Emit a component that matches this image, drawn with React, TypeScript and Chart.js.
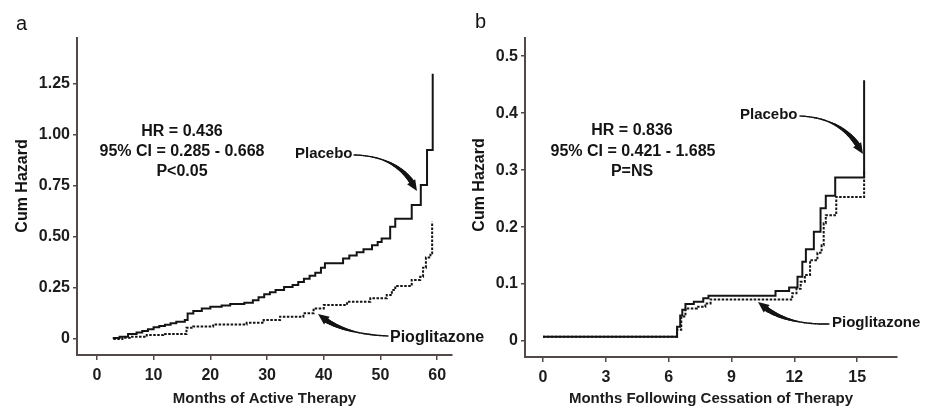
import React, { useEffect, useRef } from 'react';
import { Chart, registerables } from 'chart.js';

Chart.register(...registerables);

// ---------- Panel a: Months of Active Therapy ----------
const aPlaceboT = [2.8, 4, 5.5, 7, 8, 9, 10, 11, 12, 13, 14, 15.5, 16, 17, 18.5, 20, 22, 23.5, 26, 27.5, 28.5, 29.5, 30.5, 31.5, 33, 34.5, 35.5, 36.5, 37.5, 38.5, 39.5, 40.2, 43.4, 44.5, 45.8, 47, 48.5, 49.5, 50.2, 51.7, 52.6, 55.5, 57.1, 58.2, 59.2];
const aPlaceboH = [0.005, 0.012, 0.025, 0.032, 0.04, 0.048, 0.058, 0.064, 0.07, 0.077, 0.085, 0.093, 0.125, 0.138, 0.15, 0.158, 0.165, 0.172, 0.178, 0.19, 0.205, 0.22, 0.23, 0.24, 0.255, 0.265, 0.28, 0.295, 0.31, 0.325, 0.35, 0.371, 0.395, 0.41, 0.425, 0.44, 0.46, 0.475, 0.493, 0.55, 0.59, 0.657, 0.755, 0.926, 1.3];
const aPioT = [2.9, 4.5, 5.8, 8.8, 11.7, 15.8, 17, 20.5, 26.4, 29.4, 32.3, 36.4, 38.2, 40, 44.1, 48.2, 51.1, 52, 52.6, 55.5, 57, 57.5, 58, 58.8, 59.1];
const aPioH = [0, 0.006, 0.011, 0.02, 0.025, 0.055, 0.062, 0.072, 0.08, 0.093, 0.11, 0.126, 0.15, 0.167, 0.183, 0.2, 0.216, 0.24, 0.26, 0.29, 0.305, 0.35, 0.4, 0.42, 0.575];
const aXTicks = [0, 10, 20, 30, 40, 50, 60];
const aYTicks = [0, 0.25, 0.5, 0.75, 1.0, 1.25];
const aYTickLabels = ['0', '0.25', '0.50', '0.75', '1.00', '1.25'];

// ---------- Panel b: Months Following Cessation of Therapy ----------
const bPlaceboT = [0, 6.25, 6.4, 6.55, 6.65, 6.8, 7.2, 7.65, 7.9, 11.1, 11.75, 12.15, 12.38, 12.55, 12.93, 13.25, 13.5, 13.95, 15.33];
const bPlaceboH = [0.0075, 0.0075, 0.025, 0.045, 0.055, 0.065, 0.069, 0.075, 0.0795, 0.088, 0.094, 0.113, 0.139, 0.161, 0.192, 0.233, 0.255, 0.287, 0.458];
const bPioT = [0, 6.4, 6.6, 6.8, 7.35, 7.75, 8.0, 11.9, 12.1, 12.3, 12.5, 12.75, 13.1, 13.3, 13.4, 13.5, 14.0, 15.33];
const bPioH = [0.0075, 0.02, 0.043, 0.057, 0.06, 0.066, 0.073, 0.084, 0.092, 0.104, 0.116, 0.142, 0.155, 0.168, 0.207, 0.221, 0.253, 0.3];
const bXTicks = [0, 3, 6, 9, 12, 15];
const bYTicks = [0, 0.1, 0.2, 0.3, 0.4, 0.5];
const bYTickLabels = ['0', '0.1', '0.2', '0.3', '0.4', '0.5'];

const FONT = "Arial, 'Liberation Sans', Helvetica, sans-serif";
const AXIS = '#524949';
const INK = '#141414';

type Arrow = { p0: [number, number]; c: [number, number]; p2: [number, number] };
type Txt = { text: string; x: number; y: number; align: CanvasTextAlign; font: string; rotate?: boolean };

function drawArrow(ctx: CanvasRenderingContext2D, a: Arrow, ox: number) {
  const q = (t: number) => {
    const u = 1 - t;
    return [
      u * u * (a.p0[0] - ox) + 2 * u * t * (a.c[0] - ox) + t * t * (a.p2[0] - ox),
      u * u * a.p0[1] + 2 * u * t * a.c[1] + t * t * a.p2[1],
    ];
  };
  ctx.save();
  ctx.strokeStyle = INK;
  ctx.fillStyle = INK;
  ctx.lineCap = 'round';
  const N = 40;
  const tEnd = 0.86;
  for (let i = 0; i < N; i++) {
    const t0 = (i / N) * tEnd;
    const t1 = ((i + 1) / N) * tEnd;
    const [x0, y0] = q(t0);
    const [x1, y1] = q(t1);
    const k = Math.max(0, (t0 - 0.35) / (tEnd - 0.35));
    ctx.lineWidth = 1.4 + k * 3.8;
    ctx.beginPath();
    ctx.moveTo(x0, y0);
    ctx.lineTo(x1, y1);
    ctx.stroke();
  }
  const [tx, ty] = q(1);
  const [bx, by] = q(0.8);
  const dx = tx - bx;
  const dy = ty - by;
  const len = Math.hypot(dx, dy) || 1;
  const ux = dx / len;
  const uy = dy / len;
  const hl = 11;
  const hw = 4.8;
  const baseX = tx - ux * hl;
  const baseY = ty - uy * hl;
  ctx.beginPath();
  ctx.moveTo(tx, ty);
  ctx.lineTo(baseX - uy * hw, baseY + ux * hw);
  ctx.lineTo(baseX + uy * hw, baseY - ux * hw);
  ctx.closePath();
  ctx.fill();
  ctx.restore();
}

type PanelProps = {
  left: number;
  width: number;
  padRight: number;
  yAxisWidth: number;
  xAxisHeight: number;
  xMin: number;
  xMax: number;
  yMin: number;
  yMax: number;
  xTicks: number[];
  yTicks: number[];
  yTickLabels: string[];
  placeboT: number[];
  placeboH: number[];
  pioT: number[];
  pioH: number[];
  xTitle: string;
  texts: Txt[];
  arrows: Arrow[];
};

function Panel(p: PanelProps) {
  const ref = useRef<HTMLCanvasElement | null>(null);
  useEffect(() => {
    if (!ref.current) return;
    const annot = {
      id: 'annot',
      afterDraw(chart: any) {
        const ctx: CanvasRenderingContext2D = chart.ctx;
        for (const t of p.texts) {
          ctx.save();
          ctx.fillStyle = INK;
          ctx.font = t.font;
          ctx.textAlign = t.align;
          ctx.textBaseline = 'middle';
          if (t.rotate) {
            ctx.translate(t.x - p.left, t.y);
            ctx.rotate(-Math.PI / 2);
            ctx.fillText(t.text, 0, 0);
          } else {
            ctx.fillText(t.text, t.x - p.left, t.y);
          }
          ctx.restore();
        }
        for (const a of p.arrows) drawArrow(ctx, a, p.left);
      },
    };
    const tickFont = { family: FONT, size: 16, weight: 'bold' as const };
    const chart = new Chart(ref.current, {
      type: 'line',
      data: {
        datasets: [
          {
            label: 'Placebo',
            data: p.placeboT.map((t, i) => ({ x: t, y: p.placeboH[i] })),
            borderColor: INK,
            borderWidth: 2,
            stepped: true,
            pointRadius: 0,
            fill: false,
          },
          {
            label: 'Pioglitazone',
            data: p.pioT.map((t, i) => ({ x: t, y: p.pioH[i] })),
            borderColor: INK,
            borderWidth: 2,
            borderDash: [2.5, 1.5],
            stepped: true,
            pointRadius: 0,
            fill: false,
          },
        ],
      },
      options: {
        animation: false,
        responsive: false,
        devicePixelRatio: 1,
        layout: { padding: { top: 38, right: p.padRight, left: 0, bottom: 0 } },
        plugins: { legend: { display: false }, tooltip: { enabled: false } },
        scales: {
          x: {
            type: 'linear',
            min: p.xMin,
            max: p.xMax,
            afterBuildTicks: (s: any) => {
              s.ticks = p.xTicks.map((v) => ({ value: v }));
            },
            afterFit: (s: any) => {
              s.height = p.xAxisHeight;
            },
            ticks: { font: tickFont, color: '#1c1c1c', padding: 6, maxRotation: 0, autoSkip: false, callback: (v: any) => String(v) },
            grid: { display: true, drawOnChartArea: false, drawTicks: true, tickLength: 5, color: AXIS, lineWidth: 1.5 },
            border: { display: true, color: AXIS, width: 2 },
            title: { display: true, text: p.xTitle, color: '#1c1c1c', font: { family: FONT, size: 15, weight: 'bold' }, padding: { top: 0, bottom: 1 } },
          },
          y: {
            type: 'linear',
            min: p.yMin,
            max: p.yMax,
            afterBuildTicks: (s: any) => {
              s.ticks = p.yTicks.map((v) => ({ value: v }));
            },
            afterFit: (s: any) => {
              s.width = p.yAxisWidth;
            },
            ticks: {
              font: tickFont,
              color: '#1c1c1c',
              padding: 3,
              autoSkip: false,
              callback: (v: any) => {
                const i = p.yTicks.findIndex((t) => Math.abs(t - v) < 1e-9);
                return i >= 0 ? p.yTickLabels[i] : '';
              },
            },
            grid: { display: true, drawOnChartArea: false, drawTicks: true, tickLength: 4, color: AXIS, lineWidth: 1.5 },
            border: { display: true, color: AXIS, width: 2 },
            title: { display: false },
          },
        },
      },
      plugins: [annot],
    });
    return () => chart.destroy();
  }, []);
  return (
    <canvas
      ref={ref}
      width={p.width}
      height={409}
      style={{ position: 'absolute', left: p.left, top: 0, width: p.width, height: 409 }}
    />
  );
}

const bold16 = `bold 16px ${FONT}`;
const bold15 = `bold 15px ${FONT}`;
const reg20 = `20px ${FONT}`;

export default function App() {
  return (
    <div style={{ position: 'absolute', left: 0, top: 0, width: 929, height: 409, background: '#fff', overflow: 'hidden' }}>
      <Panel
        left={0}
        width={500}
        padRight={48}
        yAxisWidth={77}
        xAxisHeight={54}
        xMin={-3.5}
        xMax={62.6}
        yMin={-0.078}
        yMax={1.475}
        xTicks={aXTicks}
        yTicks={aYTicks}
        yTickLabels={aYTickLabels}
        placeboT={aPlaceboT}
        placeboH={aPlaceboH}
        pioT={aPioT}
        pioH={aPioH}
        xTitle="Months of Active Therapy"
        texts={[
          { text: 'a', x: 16, y: 24, align: 'left', font: reg20 },
          { text: 'Cum Hazard', x: 23, y: 186, align: 'center', font: bold16, rotate: true },
          { text: 'HR = 0.436', x: 182, y: 132, align: 'center', font: bold16 },
          { text: '95% CI = 0.285 - 0.668', x: 182, y: 152, align: 'center', font: bold16 },
          { text: 'P<0.05', x: 182, y: 172, align: 'center', font: bold16 },
          { text: 'Placebo', x: 295, y: 154, align: 'left', font: bold15 },
          { text: 'Pioglitazone', x: 390, y: 338, align: 'left', font: bold16 },
        ]}
        arrows={[
          { p0: [354, 155], c: [400, 156], p2: [417, 191] },
          { p0: [388, 336], c: [340, 334], p2: [318, 314] },
        ]}
      />
      <Panel
        left={465}
        width={464}
        padRight={32}
        yAxisWidth={60}
        xAxisHeight={52}
        xMin={-0.86}
        xMax={16.9}
        yMin={-0.028}
        yMax={0.532}
        xTicks={bXTicks}
        yTicks={bYTicks}
        yTickLabels={bYTickLabels}
        placeboT={bPlaceboT}
        placeboH={bPlaceboH}
        pioT={bPioT}
        pioH={bPioH}
        xTitle="Months Following Cessation of Therapy"
        texts={[
          { text: 'b', x: 475, y: 22, align: 'left', font: reg20 },
          { text: 'Cum Hazard', x: 480, y: 185, align: 'center', font: bold16, rotate: true },
          { text: 'HR = 0.836', x: 632, y: 131, align: 'center', font: bold16 },
          { text: '95% CI = 0.421 - 1.685', x: 633, y: 152, align: 'center', font: bold16 },
          { text: 'P=NS', x: 632, y: 172, align: 'center', font: bold16 },
          { text: 'Placebo', x: 740, y: 115, align: 'left', font: bold15 },
          { text: 'Pioglitazone', x: 832, y: 323, align: 'left', font: bold15 },
        ]}
        arrows={[
          { p0: [800, 116], c: [845, 118], p2: [863, 154] },
          { p0: [829, 324], c: [782, 325], p2: [758, 302] },
        ]}
      />
    </div>
  );
}
